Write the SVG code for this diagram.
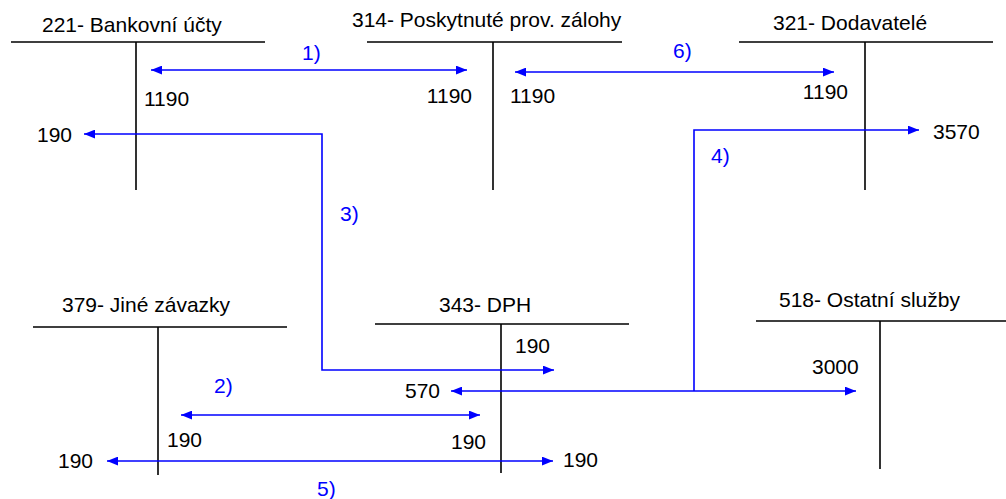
<svg xmlns="http://www.w3.org/2000/svg" width="1006" height="499" viewBox="0 0 1006 499">
<style>
.t{font-family:"Liberation Sans",Arial,sans-serif;font-size:21px;fill:#000}
.l{font-family:"Liberation Sans",Arial,sans-serif;font-size:21px;fill:#0000ff}
.acc{stroke:#000;stroke-width:1.6;fill:none}
.c{stroke:#0000ff;stroke-width:1.6;fill:none}
</style>
<defs>
<marker id="ah" viewBox="0 0 10 8" refX="10" refY="4" markerWidth="11" markerHeight="9" markerUnits="userSpaceOnUse" orient="auto-start-reverse">
<path d="M0,0 L10,4 L0,8 z" fill="#0000ff"/>
</marker>
</defs>
<rect width="1006" height="499" fill="#fff"/>
<g id="acc221">
<path class="acc" d="M11,42 H265 M136,42 V190"/>
<text class="t" x="42" y="32">221- Bankovní účty</text>
<text class="t" x="144" y="106">1190</text>
<text class="t" x="37" y="142">190</text>
</g>
<g id="acc314">
<path class="acc" d="M367,42 H622 M493,42 V190"/>
<text class="t" x="352" y="27">314- Poskytnuté prov. zálohy</text>
<text class="t" x="472" y="103" text-anchor="end">1190</text>
<text class="t" x="510" y="103">1190</text>
</g>
<g id="acc321">
<path class="acc" d="M739,42 H993 M865,42 V190"/>
<text class="t" x="773" y="30">321- Dodavatelé</text>
<text class="t" x="848" y="99" text-anchor="end">1190</text>
<text class="t" x="933" y="139">3570</text>
</g>
<g id="acc379">
<path class="acc" d="M33,327 H287 M158,327 V475"/>
<text class="t" x="62" y="312">379- Jiné závazky</text>
<text class="t" x="167" y="447">190</text>
<text class="t" x="58" y="468">190</text>
</g>
<g id="acc343">
<path class="acc" d="M375,324 H629 M501,324 V473"/>
<text class="t" x="439" y="312">343- DPH</text>
<text class="t" x="515" y="353">190</text>
<text class="t" x="405" y="398">570</text>
<text class="t" x="451" y="449">190</text>
<text class="t" x="563" y="467">190</text>
</g>
<g id="acc518">
<path class="acc" d="M756,321 H1006 M880,321 V469"/>
<text class="t" x="779" y="307">518- Ostatní služby</text>
<text class="t" x="812" y="374">3000</text>
</g>
<g id="connectors">
<path class="c" d="M151,70 H467" marker-start="url(#ah)" marker-end="url(#ah)"/>
<path class="c" d="M515,72 H834" marker-start="url(#ah)" marker-end="url(#ah)"/>
<path class="c" d="M84,134 H322 V370 H554" marker-start="url(#ah)" marker-end="url(#ah)"/>
<path class="c" d="M451,391 H856" marker-start="url(#ah)" marker-end="url(#ah)"/>
<path class="c" d="M694,391 V130 H919" marker-end="url(#ah)"/>
<path class="c" d="M181,415 H480" marker-start="url(#ah)" marker-end="url(#ah)"/>
<path class="c" d="M107,461 H553" marker-start="url(#ah)" marker-end="url(#ah)"/>
<text class="l" x="302" y="60">1)</text>
<text class="l" x="214" y="393">2)</text>
<text class="l" x="340" y="221">3)</text>
<text class="l" x="711" y="163">4)</text>
<text class="l" x="317" y="496">5)</text>
<text class="l" x="673" y="58">6)</text>
</g>
</svg>
